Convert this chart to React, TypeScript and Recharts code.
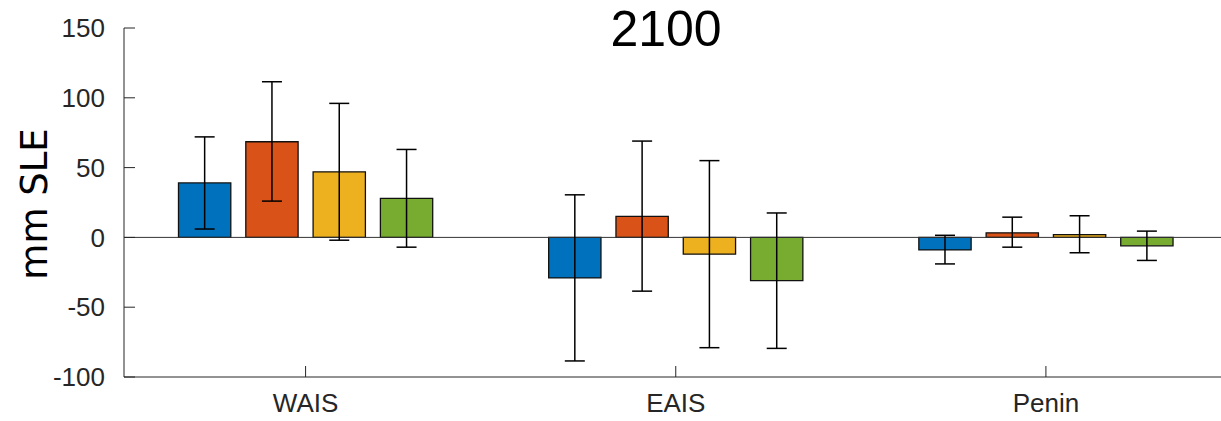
import React from 'react';
import { BarChart, Bar, XAxis, YAxis, ErrorBar, ReferenceLine } from 'recharts';

const categories = ['WAIS', 'EAIS', 'Penin'];
const yTicks = [-100, -50, 0, 50, 100, 150];

const s1Values = [39, -29, -9];
const s1Low = [6, -88.5, -19];
const s1High = [72, 30.5, 1.5];

const s2Values = [68.5, 15, 3.3];
const s2Low = [26, -38.5, -7];
const s2High = [111.5, 69, 14.5];

const s3Values = [47, -12, 2];
const s3Low = [-2, -79, -11];
const s3High = [96, 55, 15.5];

const s4Values = [28, -31, -6];
const s4Low = [-7, -79.5, -16.5];
const s4High = [63, 17.5, 4.5];

const colors = ['#0072BD', '#D95319', '#EDB120', '#77AC30'];

const data = categories.map((name, i) => ({
  name,
  s1: s1Values[i],
  s1Err: [s1Values[i] - s1Low[i], s1High[i] - s1Values[i]],
  s2: s2Values[i],
  s2Err: [s2Values[i] - s2Low[i], s2High[i] - s2Values[i]],
  s3: s3Values[i],
  s3Err: [s3Values[i] - s3Low[i], s3High[i] - s3Values[i]],
  s4: s4Values[i],
  s4Err: [s4Values[i] - s4Low[i], s4High[i] - s4Values[i]],
}));

const FONT = '"Liberation Sans", Arial, Helvetica, sans-serif';
const AX = '#262626';

export default function App() {
  const keys = ['s1', 's2', 's3', 's4'];
  return (
    <div
      style={{
        position: 'fixed',
        left: 0,
        top: 0,
        width: 1221,
        height: 421,
        overflow: 'hidden',
        background: '#fff',
      }}
    >
      <BarChart
        width={1241}
        height={421}
        data={data}
        margin={{ top: 28, right: 10, bottom: 14, left: 64 }}
        barGap={15}
      >
        <ReferenceLine y={0} stroke="#333" strokeWidth={1} />
        <XAxis
          dataKey="name"
          height={30}
          padding={{ left: -3.5, right: 0 }}
          tickSize={-11}
          tickMargin={27.3}
          axisLine={{ stroke: AX, strokeWidth: 1 }}
          tickLine={{ stroke: AX, strokeWidth: 1 }}
          tick={{ fill: AX, fontSize: 26, fontFamily: FONT }}
        />
        <YAxis
          type="number"
          width={60}
          domain={[-100, 150]}
          ticks={yTicks}
          interval={0}
          allowDataOverflow
          tickSize={-11}
          tickMargin={30}
          axisLine={{ stroke: AX, strokeWidth: 1 }}
          tickLine={{ stroke: AX, strokeWidth: 1 }}
          tick={{ fill: AX, fontSize: 26, fontFamily: FONT }}
        />
        {keys.map((k, i) => (
          <Bar
            key={k}
            dataKey={k}
            fill={colors[i]}
            stroke="#111"
            strokeWidth={1.3}
            barSize={52.3}
            isAnimationActive={false}
          >
            <ErrorBar
              dataKey={k + 'Err'}
              direction="y"
              width={10}
              stroke="#000"
              strokeWidth={1.5}
              isAnimationActive={false}
            />
          </Bar>
        ))}
      </BarChart>
      <svg
        width={1221}
        height={421}
        style={{ position: 'absolute', left: 0, top: 0, pointerEvents: 'none' }}
      >
        <text
          x={666}
          y={46}
          textAnchor="middle"
          fontSize={50}
          fontFamily={FONT}
          fill="#000"
        >
          2100
        </text>
        <text
          x={47}
          y={204}
          textAnchor="middle"
          fontSize={37}
          fontFamily='"DejaVu Sans", sans-serif'
          fill="#000"
          transform="rotate(-90, 47, 204)"
        >
          mm SLE
        </text>
      </svg>
    </div>
  );
}
